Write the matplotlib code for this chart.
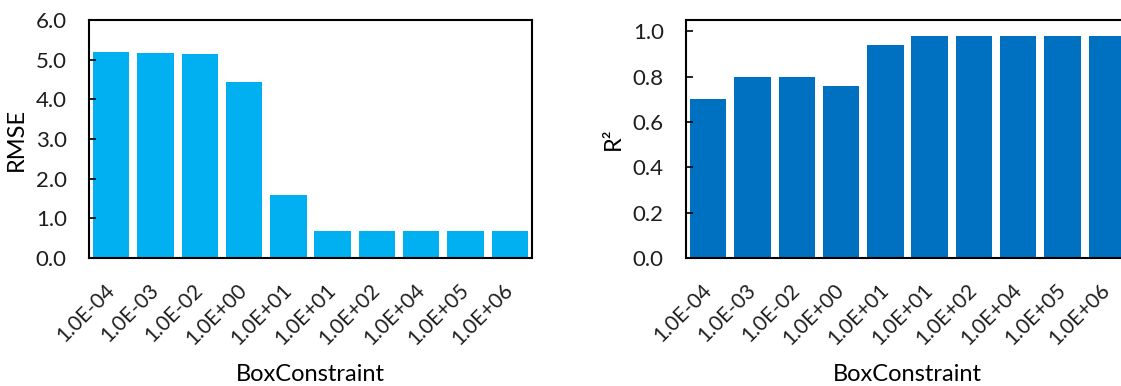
import numpy as np
import matplotlib
matplotlib.use("Agg")
import matplotlib.pyplot as plt
from matplotlib.ticker import FormatStrFormatter

box_constraint = ["1.0E-04", "1.0E-03", "1.0E-02", "1.0E+00", "1.0E+01",
                  "1.0E+01", "1.0E+02", "1.0E+04", "1.0E+05", "1.0E+06"]
rmse = [5.20, 5.18, 5.14, 4.44, 1.59, 0.69, 0.69, 0.69, 0.69, 0.69]
r2 = [0.70, 0.80, 0.80, 0.76, 0.94, 0.98, 0.98, 0.98, 0.98, 0.98]

plt.rcParams["font.family"] = ["Lato", "DejaVu Sans"]
plt.rcParams["text.color"] = "#1e1e1e"
plt.rcParams["xtick.color"] = "#1e1e1e"
plt.rcParams["ytick.color"] = "#1e1e1e"

W, H = 1121, 386
fig = plt.figure(figsize=(W / 100, H / 100), dpi=100)


def panel(rect, values, color, ylabel, ymax, ystep):
    ax = fig.add_axes(rect)
    x = np.arange(len(values))
    ax.bar(x, values, width=0.82, color=color)
    ax.set_xlim(-0.5, len(values) - 0.5)
    ax.set_ylim(0, ymax)
    ax.set_yticks(np.arange(0, ymax + 1e-9, ystep))
    ax.yaxis.set_major_formatter(FormatStrFormatter("%.1f"))
    ax.set_xticks(x)
    ax.set_xticklabels(box_constraint, rotation=45, ha="right", va="center",
                       rotation_mode="anchor", fontsize=15)
    ax.tick_params(axis="x", length=0, pad=21)
    ax.tick_params(axis="y", direction="in", length=5, width=1.2, pad=16,
                   labelsize=16, color="black")
    for s in ax.spines.values():
        s.set_linewidth(1.5)
    ax.set_ylabel(ylabel, fontsize=17, labelpad=6)
    ax.set_xlabel("BoxConstraint", fontsize=17, labelpad=11)
    return ax


top, bottom = 20, 258
ax_w = (532 - 89) / W
ax_h = (bottom - top) / H
y0 = (H - bottom) / H

panel([89 / W, y0, ax_w, ax_h], rmse, "#00B0F0", "RMSE", 6.0, 1.0)
panel([686 / W, y0, ax_w, ax_h], r2, "#0070C0", "R²", 1.05, 0.2)

fig.savefig("out.png", dpi=100)
